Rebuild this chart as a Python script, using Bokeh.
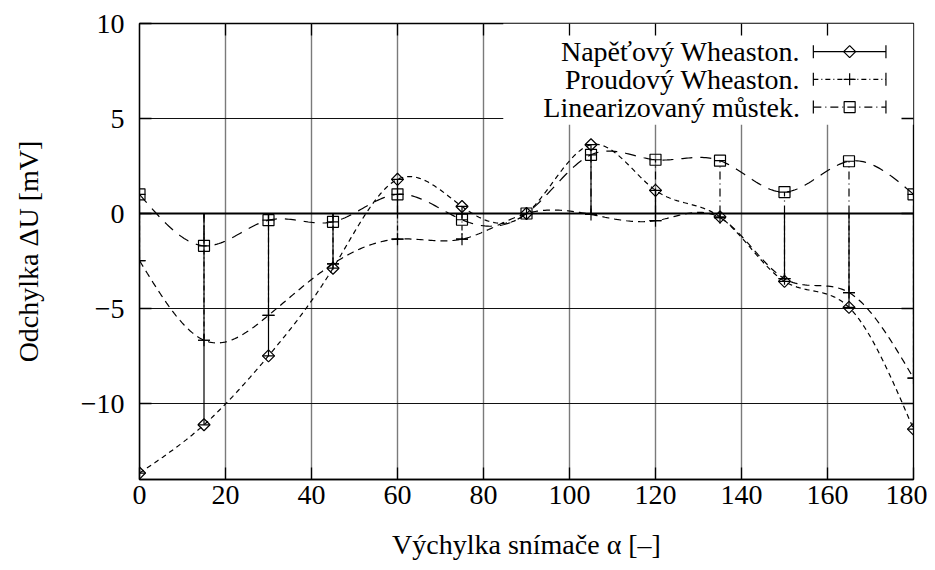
import numpy as np
from bokeh.plotting import figure
from bokeh.models import Range1d, FixedTicker, Span, BoxAnnotation, ColumnDataSource
from bokeh.core.properties import value
from bokeh.embed import file_html
from bokeh.resources import INLINE

# ---------------- data ----------------
angles = [0, 15, 30, 45, 60, 75, 90, 105, 120, 135, 150, 165, 180]
napetovy = [-13.66, -11.12, -7.49, -2.88, 1.80, 0.37, 0.00, 3.62, 1.22, -0.18, -3.57, -4.94, -11.35]
proudovy = [-2.48, -6.67, -5.36, -2.65, -1.35, -1.35, 0.00, -0.05, -0.38, -0.22, -3.43, -4.16, -8.66]
linearizovany = [1.01, -1.70, -0.35, -0.44, 1.01, -0.33, 0.00, 3.09, 2.83, 2.78, 1.13, 2.75, 1.01]
series_names = ["Napěťový Wheaston.", "Proudový Wheaston.", "Linearizovaný můstek."]
x_ticks = [0, 20, 40, 60, 80, 100, 120, 140, 160, 180]
y_ticks = [-10, -5, 0, 5, 10]
y_tick_labels = {-10: "−10", -5: "−5", 0: "0", 5: "5", 10: "10"}
x_label = "Výchylka snímače α [–]"
y_label = "Odchylka ΔU [mV]"

X_MIN, X_MAX, Y_MIN, Y_MAX = 0, 180, -14, 10
FONT = "Liberation Serif"
FS = "28px"


def natural_spline(xs, ys, n=400):
    """Natural cubic spline (like gnuplot 'smooth csplines')."""
    xs = np.asarray(xs, float)
    ys = np.asarray(ys, float)
    k = len(xs)
    h = np.diff(xs)
    A = np.zeros((k, k))
    b = np.zeros(k)
    A[0, 0] = 1.0
    A[-1, -1] = 1.0
    for i in range(1, k - 1):
        A[i, i - 1] = h[i - 1]
        A[i, i] = 2 * (h[i - 1] + h[i])
        A[i, i + 1] = h[i]
        b[i] = 6 * ((ys[i + 1] - ys[i]) / h[i] - (ys[i] - ys[i - 1]) / h[i - 1])
    M = np.linalg.solve(A, b)
    xq = np.linspace(xs[0], xs[-1], n)
    idx = np.clip(np.searchsorted(xs, xq) - 1, 0, k - 2)
    x0, x1 = xs[idx], xs[idx + 1]
    y0, y1 = ys[idx], ys[idx + 1]
    m0, m1 = M[idx], M[idx + 1]
    hh = x1 - x0
    yq = (m0 * (x1 - xq) ** 3 / (6 * hh) + m1 * (xq - x0) ** 3 / (6 * hh)
          + (y0 / hh - m0 * hh / 6) * (x1 - xq) + (y1 / hh - m1 * hh / 6) * (xq - x0))
    return xq, yq


p = figure(width=927, height=562,
           x_range=Range1d(X_MIN, X_MAX), y_range=Range1d(Y_MIN, Y_MAX),
           output_backend="svg", toolbar_location=None,
           min_border_left=139, min_border_right=14, min_border_top=23, min_border_bottom=79)
p.background_fill_color = "white"
p.border_fill_color = "white"
p.outline_line_color = "black"
p.outline_line_width = 1.3

# grids
p.xgrid.ticker = FixedTicker(ticks=x_ticks)
p.ygrid.ticker = FixedTicker(ticks=y_ticks)
p.xgrid.grid_line_color = "#7a7a7a"
p.xgrid.grid_line_width = 1.4
p.ygrid.grid_line_color = "#111111"
p.ygrid.grid_line_width = 1.0


def style_axis(ax, ticks):
    ax.ticker = FixedTicker(ticks=ticks)
    ax.axis_line_color = "black"
    ax.axis_line_width = 1.3
    ax.major_tick_in = 12
    ax.major_tick_out = 0
    ax.major_tick_line_color = "black"
    ax.major_tick_line_width = 1.3
    ax.minor_tick_line_color = None
    ax.major_label_text_font = FONT
    ax.major_label_text_font_size = FS
    ax.major_label_text_color = "black"
    ax.axis_label_text_font = FONT
    ax.axis_label_text_font_size = FS
    ax.axis_label_text_font_style = "normal"
    ax.axis_label_text_color = "black"


xa = p.below[0]
ya = p.left[0]
style_axis(xa, x_ticks)
style_axis(ya, y_ticks)
xa.axis_label = x_label
ya.axis_label = y_label
ya.major_label_overrides = y_tick_labels
xa.major_label_standoff = 6
xa.axis_label_standoff = 22
ya.major_label_standoff = 15
ya.axis_label_standoff = 34

# legend background (covers grid like gnuplot's opaque key)
LEG_LEFT = X_MIN + 0.470 * (X_MAX - X_MIN)
LEG_BOTTOM = Y_MIN + 0.778 * (Y_MAX - Y_MIN)
p.add_layout(BoxAnnotation(left=LEG_LEFT, right=X_MAX, bottom=LEG_BOTTOM, top=Y_MAX,
                           fill_color="white", fill_alpha=1.0, line_color=None,
                           level="underlay"))

# mirrored ticks on the top and right border (inward, 12 px, clipped at the frame)
top_src = ColumnDataSource(dict(x=x_ticks[1:-1], y=[Y_MAX] * (len(x_ticks) - 2)))
right_src = ColumnDataSource(dict(x=[X_MAX] * (len(y_ticks) - 1), y=y_ticks[:-1]))
p.scatter(x="x", y="y", source=top_src, marker="dash", angle=np.pi / 2, size=24,
          line_color="black", line_width=1.3)
p.scatter(x="x", y="y", source=right_src, marker="dash", size=24,
          line_color="black", line_width=1.3)

# zero line
p.add_layout(Span(location=0, dimension="width", line_color="black", line_width=1.8))

series = [napetovy, proudovy, linearizovany]
impulse_dash = ["solid", "5 3 1 3", "8 4 1 4"]
curve_dash = ["5 4", "7 5", "11 8"]

zeros = [0.0] * len(angles)


def draw_marker(src, xf, yf, kind):
    if kind == 0:
        p.scatter(x=xf, y=yf, source=src, marker="square", angle=np.pi / 4, size=8.5,
                  fill_color=None, line_color="black", line_width=1.2)
    elif kind == 1:
        p.scatter(x=xf, y=yf, source=src, marker="cross", size=12,
                  line_color="black", line_width=1.2)
    else:
        p.scatter(x=xf, y=yf, source=src, marker="square", size=11,
                  fill_color=None, line_color="black", line_width=1.2)


for k, ys in enumerate(series):
    src = ColumnDataSource(dict(x=angles, y=ys, z=zeros))
    # impulse / error bar from 0 to value
    p.segment(x0="x", y0="z", x1="x", y1="y", source=src,
              line_color="black", line_width=1.2, line_dash=impulse_dash[k])
    p.scatter(x="x", y="y", source=src, marker="dash", size=12, line_color="black", line_width=1.2)
    p.scatter(x="x", y="z", source=src, marker="dash", size=12, line_color="black", line_width=1.2)
    draw_marker(src, "x", "y", k)
    # smooth curve
    cx, cy = natural_spline(angles, ys)
    p.line(cx, cy, line_color="black", line_width=1.2, line_dash=curve_dash[k])

# ---------------- key (gnuplot style: text left, sample right) ----------------
TXT_X = X_MIN + 0.8533 * (X_MAX - X_MIN)
S0 = X_MIN + 0.8706 * (X_MAX - X_MIN)
S1 = X_MIN + 0.9644 * (X_MAX - X_MIN)
SM = (S0 + S1) / 2
rows = [Y_MIN + f * (Y_MAX - Y_MIN) for f in (0.9383, 0.8775, 0.8167)]

p.text(x=[TXT_X] * 3, y=rows, text=series_names, text_align="right", text_baseline="middle",
       text_font=value(FONT), text_font_size=FS, text_color="black")
for k in range(3):
    ksrc = ColumnDataSource(dict(x=[SM], y=[rows[k]]))
    esrc = ColumnDataSource(dict(x=[S0, S1], y=[rows[k], rows[k]]))
    p.segment(x0=[S0], y0=[rows[k]], x1=[S1], y1=[rows[k]], line_color="black",
              line_width=1.2, line_dash=impulse_dash[k])
    p.scatter(x="x", y="y", source=esrc, marker="dash", angle=np.pi / 2, size=13,
              line_color="black", line_width=1.2)
    draw_marker(ksrc, "x", "y", k)

open("out.html", "w").write(file_html(p, INLINE))
